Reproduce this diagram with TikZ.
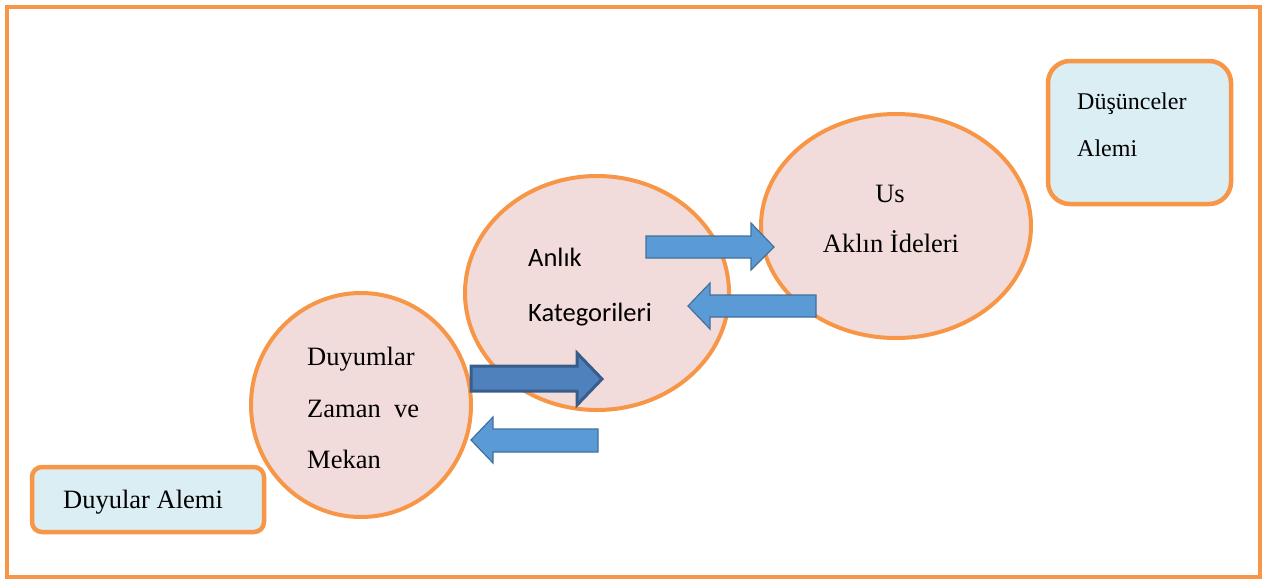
\documentclass[tikz,border=0pt]{standalone}
\usepackage{fontspec}
\setmainfont{Liberation Serif}
\newfontfamily\calib{Carlito}
\definecolor{frameor}{HTML}{F79646}
\definecolor{pinkfill}{HTML}{F2DCDB}
\definecolor{bluefill}{HTML}{DAEEF3}
\definecolor{arrfill}{HTML}{5B9BD5}
\definecolor{arrline}{HTML}{41719C}
\definecolor{darkfill}{HTML}{4F81BD}
\definecolor{darkline}{HTML}{385D8A}
\begin{document}
\begin{tikzpicture}[x=1pt,y=-1pt,
  lbl/.style={inner sep=0pt,anchor=base west,font=\fontsize{26.5}{30}\selectfont},
  lblc/.style={inner sep=0pt,anchor=base,font=\fontsize{26.5}{30}\selectfont},
  lbls/.style={inner sep=0pt,anchor=base west,font=\calib\fontsize{26.5}{30}\selectfont},
  bubble/.style={draw=frameor,fill=pinkfill,line width=4pt},
  realm/.style={draw=frameor,fill=bluefill,line width=4.5pt},
  blockarrow/.style={draw=arrline,fill=arrfill,line width=1.2pt,line join=miter},
  darkarrow/.style={draw=darkline,fill=darkfill,line width=3pt,line join=miter}]
\useasboundingbox (0,0) rectangle (1263,579);
\draw[frameor,line width=4pt] (7,7) rectangle (1260,577);
% realms
\draw[realm,rounded corners=22pt] (1048,61) rectangle (1231,204);
\draw[realm,rounded corners=10pt] (32,467) rectangle (264,532);
% bubbles
\draw[bubble] (361,405) ellipse [x radius=110, y radius=112];
\draw[bubble] (597,293) ellipse [x radius=132, y radius=117];
\draw[bubble] (896,226) ellipse [x radius=135, y radius=112];
% arrows
\path[blockarrow] (646,236) -- (751,236) -- (751,223) -- (774,247) -- (751,270) -- (751,258) -- (646,258) -- cycle;
\path[blockarrow] (816,295) -- (710,295) -- (710,283) -- (688,306) -- (710,329) -- (710,317) -- (816,317) -- cycle;
\path[darkarrow] (471,366) -- (577,366) -- (577,353) -- (602,379) -- (577,405) -- (577,391) -- (471,391) -- cycle;
\path[blockarrow] (598,429) -- (493,429) -- (493,417) -- (471,440) -- (493,463) -- (493,452) -- (598,452) -- cycle;
% texts
\node[lbl] (t1) at (307,365) {Duyumlar};
\node[lbl] (t2) at (307,417) {Zaman\ \ ve};
\node[lbl] (t3) at (307,468) {Mekan};
\node[lbls] (t4) at (528,266) {Anlık};
\node[lbls] (t5) at (528,321) {Kategorileri};
\node[lblc] (t6) at (890,202) {Us};
\node[lblc] (t7) at (891,252) {Aklın İdeleri};
\node[lbl,font=\fontsize{24}{28}\selectfont] (t8) at (1077,109) {Düşünceler};
\node[lbl,font=\fontsize{24}{28}\selectfont] (t9) at (1077,156) {Alemi};
\node[lbl] (t10) at (63,508) {Duyular Alemi};
\end{tikzpicture}
\end{document}
